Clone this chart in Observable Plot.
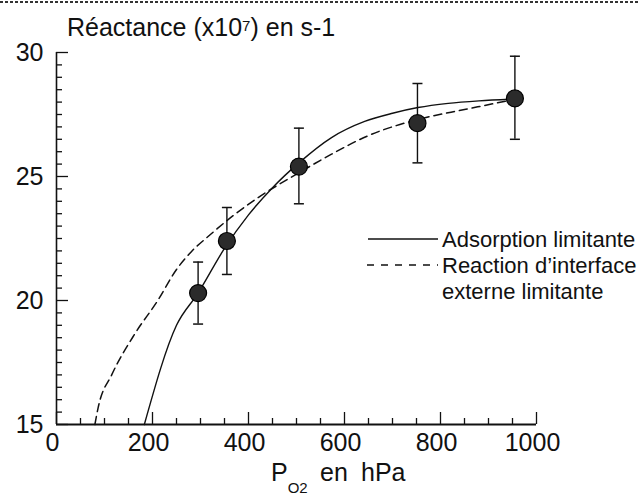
<!DOCTYPE html>
<html><head><meta charset="utf-8">
<script src="https://cdn.jsdelivr.net/npm/d3@7"></script>
<script src="https://cdn.jsdelivr.net/npm/@observablehq/plot@0.6"></script>
<style>
html,body{margin:0;padding:0;background:#fff;}
#wrap{position:relative;width:638px;height:504px;overflow:hidden;font-family:"Liberation Sans",Arial,Helvetica,sans-serif;}
#wrap svg.overlay{position:absolute;left:0;top:0;pointer-events:none;}
</style></head><body><div id="wrap"></div>
<script>
// Measured points (P_O2 in hPa, reactance x1e7 s-1) with error bars
const pO2 = [295, 355, 505, 752, 955];
const reactance = [20.3, 22.4, 25.4, 27.15, 28.15];
const errHigh = [21.55, 23.75, 26.95, 28.75, 29.85];
const errLow = [19.05, 21.05, 23.9, 25.55, 26.5];

// Model curve: Adsorption limitante (solid)
const adsX = [183, 250, 295, 350, 400, 450, 505, 573, 642, 700, 753, 816, 880, 955];
const adsY = [15.0, 19.0, 20.3, 22.1, 23.45, 24.55, 25.55, 26.57, 27.22, 27.55, 27.78, 27.95, 28.05, 28.12];

// Model curve: Reaction d'interface externe limitante (dashed)
const reacX = [80, 87, 115, 163, 211, 250, 280, 320, 370, 420, 505, 573, 650, 753, 850, 906, 955];
const reacY = [15.0, 15.7, 17.0, 18.65, 20.0, 21.25, 21.95, 22.65, 23.45, 24.15, 25.15, 25.9, 26.65, 27.3, 27.7, 27.92, 28.12];

// Axis ticks
const xMajorTicks = [0, 200, 400, 600, 800, 1000];
const xMinorTicks = [50, 100, 150, 250, 300, 350, 450, 500, 550, 650, 700, 750, 850, 900, 950];
const yMajorTicks = [15, 20, 25, 30];
const yMinorTicks = [15.5, 16, 16.5, 17, 17.5, 18, 18.5, 19, 19.5, 20.5, 21, 21.5, 22, 22.5, 23, 23.5, 24, 24.5, 25.5, 26, 26.5, 27, 27.5, 28, 28.5, 29, 29.5];

const points = pO2.map((x, i) => ({x, y: reactance[i], hi: errHigh[i], lo: errLow[i]}));
const ads = adsX.map((x, i) => ({x, y: adsY[i]}));
const reac = reacX.map((x, i) => ({x, y: reacY[i]}));

const W = 638, H = 504, ML = 56, MR = 102, MT = 52, MB = 80;
const xPerPx = 1000 / (W - ML - MR);
const yPerPx = 15 / (H - MT - MB);
const ink = "#111";
const capSymbol = {draw(ctx, size) { const r = Math.sqrt(size / Math.PI); ctx.moveTo(-r, 0); ctx.lineTo(r, 0); }};

const chart = Plot.plot({
  width: W, height: H,
  marginLeft: ML, marginRight: MR, marginTop: MT, marginBottom: MB,
  x: {domain: [0, 1000], axis: null},
  y: {domain: [15, 30], axis: null},
  style: {fontFamily: "'Liberation Sans', Arial, Helvetica, sans-serif", background: "white", color: ink},
  marks: [
    // axis lines
    Plot.ruleY([15], {x1: 0, x2: 1000, stroke: ink, strokeWidth: 2}),
    Plot.ruleX([0], {y1: 15, y2: 30, stroke: ink, strokeWidth: 1.6}),
    // inward ticks
    Plot.ruleX(xMinorTicks, {x: d => d, y1: 15, y2: 15 + 6 * yPerPx, stroke: ink, strokeWidth: 1.3}),
    Plot.ruleX(xMajorTicks, {x: d => d, y1: 15, y2: 15 + 12 * yPerPx, stroke: ink, strokeWidth: 1.3}),
    Plot.ruleY(yMinorTicks, {y: d => d, x1: 0, x2: 6 * xPerPx, stroke: ink, strokeWidth: 1.3}),
    Plot.ruleY(yMajorTicks, {y: d => d, x1: 0, x2: 12 * xPerPx, stroke: ink, strokeWidth: 1.3}),
    // tick labels
    Plot.text(xMajorTicks, {x: d => d, y: 15, text: d => String(d), dy: 9, dx: -4, lineAnchor: "top", fontSize: 25, fill: ink}),
    Plot.text(yMajorTicks, {x: 0, y: d => d, text: d => String(d), textAnchor: "end", dx: -13, fontSize: 25, fill: ink}),
    // model curves
    Plot.line(reac, {x: "x", y: "y", curve: "monotone-x", stroke: ink, strokeWidth: 1.5, strokeDasharray: "8,5"}),
    Plot.line(ads, {x: "x", y: "y", curve: "monotone-x", stroke: ink, strokeWidth: 1.4}),
    // error bars
    Plot.ruleX(points, {x: "x", y1: "lo", y2: "hi", stroke: ink, strokeWidth: 1.4}),
    Plot.dot(points, {x: "x", y: "hi", r: 5, symbol: capSymbol, fill: "none", stroke: ink, strokeWidth: 1.5}),
    Plot.dot(points, {x: "x", y: "lo", r: 5, symbol: capSymbol, fill: "none", stroke: ink, strokeWidth: 1.5}),
    // measured points
    Plot.dot(points, {x: "x", y: "y", r: 8.5, fill: "#2b2b2b", stroke: "#000", strokeWidth: 1.2})
  ]
});

const wrap = document.getElementById("wrap");
wrap.appendChild(chart);

const ff = "'Liberation Sans', Arial, Helvetica, sans-serif";
const overlay = `
<svg class="overlay" width="${W}" height="${H}" xmlns="http://www.w3.org/2000/svg" font-family="${ff}" fill="${ink}">
  <line x1="0" x2="${W}" y1="2" y2="2" stroke="#333" stroke-width="2" stroke-dasharray="3,2"/>
  <text x="67" y="36" font-size="25">Réactance (x10<tspan font-size="15" dy="-5">7</tspan><tspan dy="5">) en s-1</tspan></text>
  <text x="271" y="481" font-size="25">P<tspan font-size="15" dy="12">O2</tspan><tspan dy="-12" x="320">en</tspan><tspan x="361">hPa</tspan></text>
  <line x1="368" x2="438" y1="239" y2="239" stroke="${ink}" stroke-width="1.5"/>
  <line x1="367" x2="438" y1="265" y2="265" stroke="${ink}" stroke-width="1.5" stroke-dasharray="7,7"/>
  <text x="442" y="247" font-size="22">Adsorption limitante</text>
  <text x="442" y="273" font-size="22">Reaction d’interface</text>
  <text x="442" y="299" font-size="22">externe limitante</text>
</svg>`;
wrap.insertAdjacentHTML("beforeend", overlay);
</script>
</body></html>
